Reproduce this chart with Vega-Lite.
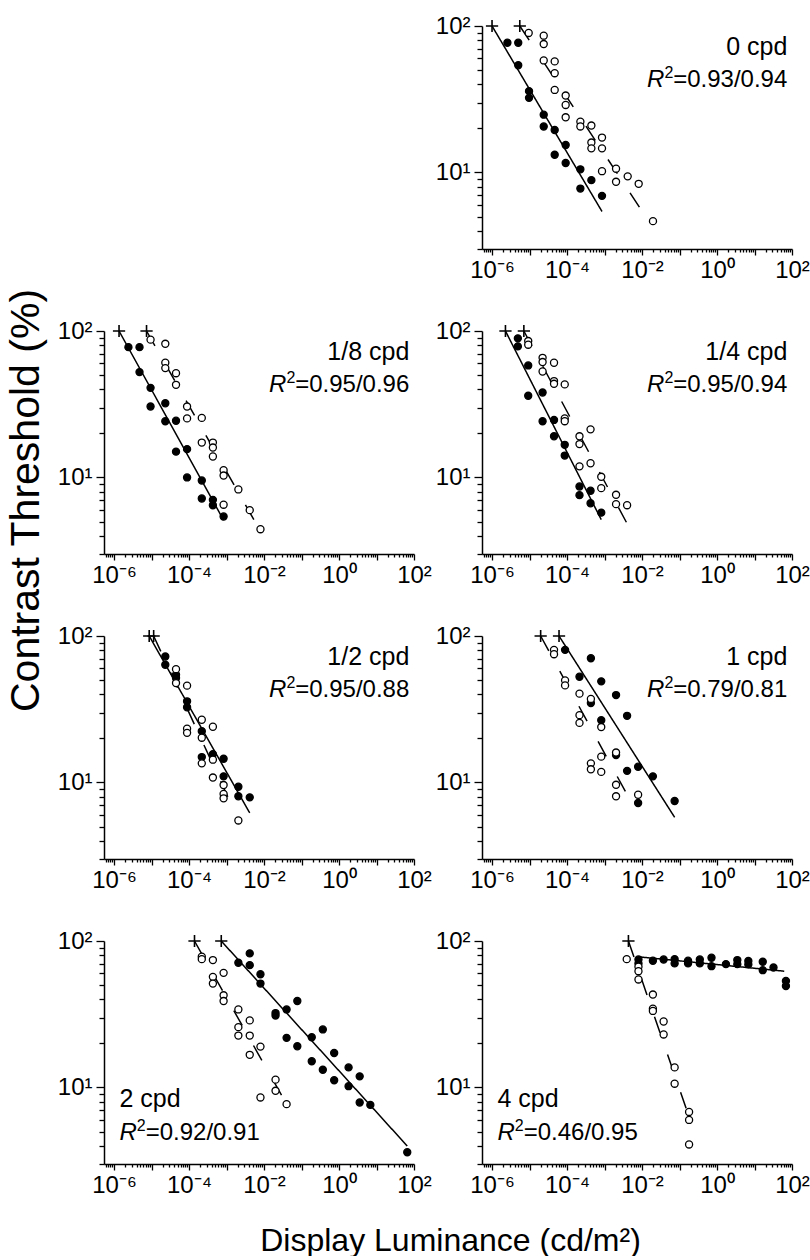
{
"$schema": "https://vega.github.io/schema/vega-lite/v6.json",
"background": "white",
"padding": {"left": 4, "top": 14, "right": 0, "bottom": 0},
"columns": 2,
"spacing": {"row": 82, "column": 68},
"bounds": "flush",
"datasets": {
"labels": [
{"p":"0","name":"0 cpd","r":"=0.93/0.94"},
{"p":"1/8","name":"1/8 cpd","r":"=0.95/0.96"},
{"p":"1/4","name":"1/4 cpd","r":"=0.95/0.94"},
{"p":"1/2","name":"1/2 cpd","r":"=0.95/0.88"},
{"p":"1","name":"1 cpd","r":"=0.79/0.81"},
{"p":"2","name":"2 cpd","r":"=0.92/0.91"},
{"p":"4","name":"4 cpd","r":"=0.46/0.95"}
],
"fits": [
{"p":"0","s":"f","x":1e-6,"y":100},{"p":"0","s":"f","x":8.57e-4,"y":5.41},
{"p":"0","s":"o","x":5.5e-6,"y":100},{"p":"0","s":"o","x":1.02e-2,"y":5.41},
{"p":"1/8","s":"f","x":1.36e-6,"y":100},{"p":"1/8","s":"f","x":8.36e-4,"y":5.11},
{"p":"1/8","s":"o","x":7.36e-6,"y":100},{"p":"1/8","s":"o","x":8.0e-3,"y":4.3},
{"p":"1/4","s":"f","x":2.28e-6,"y":100},{"p":"1/4","s":"f","x":8.18e-4,"y":5.15},
{"p":"1/4","s":"o","x":7.06e-6,"y":100},{"p":"1/4","s":"o","x":4.0e-3,"y":4.84},
{"p":"1/2","s":"f","x":8.67e-6,"y":100},{"p":"1/2","s":"f","x":4.16e-3,"y":6.19},
{"p":"1/2","s":"o","x":1.14e-5,"y":100},{"p":"1/2","s":"o","x":1.21e-3,"y":7.5},
{"p":"1","s":"f","x":6.12e-5,"y":100},{"p":"1","s":"f","x":7.41e-2,"y":5.78},
{"p":"1","s":"o","x":1.98e-5,"y":100},{"p":"1","s":"o","x":4.16e-3,"y":8.11},
{"p":"2","s":"f","x":7.24e-4,"y":100},{"p":"2","s":"f","x":66.1,"y":3.98},
{"p":"2","s":"o","x":1.4e-4,"y":100},{"p":"2","s":"o","x":4.0e-2,"y":7.69},
{"p":"4","s":"f","x":8.04e-3,"y":78.0},{"p":"4","s":"f","x":62.1,"y":62.2},
{"p":"4","s":"o","x":4.34e-3,"y":100},{"p":"4","s":"o","x":0.17,"y":6.56}
],
"pts": [
{"p":"0","s":"f","x":2.57e-6,"y":76.9},{"p":"0","s":"f","x":5.0e-6,"y":76.9},{"p":"0","s":"f","x":5.0e-6,"y":53.9},{"p":"0","s":"f","x":9.7e-6,"y":35.9},{"p":"0","s":"f","x":9.7e-6,"y":32.3},{"p":"0","s":"f","x":2.39e-5,"y":24.8},{"p":"0","s":"f","x":2.39e-5,"y":20.6},{"p":"0","s":"f","x":4.69e-5,"y":19.5},{"p":"0","s":"f","x":9.2e-5,"y":15.4},{"p":"0","s":"f","x":4.69e-5,"y":13.2},{"p":"0","s":"f","x":9.2e-5,"y":11.6},{"p":"0","s":"f","x":2.27e-4,"y":10.5},{"p":"0","s":"f","x":4.46e-4,"y":8.86},{"p":"0","s":"f","x":2.27e-4,"y":7.76},{"p":"0","s":"f","x":8.57e-4,"y":6.92},
{"p":"0","s":"o","x":9.5e-6,"y":89.6},{"p":"0","s":"o","x":2.39e-5,"y":85.9},{"p":"0","s":"o","x":2.39e-5,"y":75.3},{"p":"0","s":"o","x":2.39e-5,"y":58.2},{"p":"0","s":"o","x":4.69e-5,"y":57.3},{"p":"0","s":"o","x":4.69e-5,"y":47.6},{"p":"0","s":"o","x":4.69e-5,"y":36.6},{"p":"0","s":"o","x":9.2e-5,"y":33.5},{"p":"0","s":"o","x":9.2e-5,"y":28.9},{"p":"0","s":"o","x":9.2e-5,"y":23.8},{"p":"0","s":"o","x":2.27e-4,"y":22.2},{"p":"0","s":"o","x":2.27e-4,"y":20.6},{"p":"0","s":"o","x":4.46e-4,"y":20.9},{"p":"0","s":"o","x":4.46e-4,"y":16.0},{"p":"0","s":"o","x":4.46e-4,"y":14.6},{"p":"0","s":"o","x":8.57e-4,"y":17.3},{"p":"0","s":"o","x":8.57e-4,"y":14.6},{"p":"0","s":"o","x":8.57e-4,"y":10.2},{"p":"0","s":"o","x":2.03e-3,"y":10.6},{"p":"0","s":"o","x":2.03e-3,"y":8.63},{"p":"0","s":"o","x":4.15e-3,"y":9.4},{"p":"0","s":"o","x":8.15e-3,"y":8.36},{"p":"0","s":"o","x":1.96e-2,"y":4.65},
{"p":"1/8","s":"f","x":2.42e-6,"y":77.6},{"p":"1/8","s":"f","x":4.78e-6,"y":77.6},{"p":"1/8","s":"f","x":4.78e-6,"y":52.4},{"p":"1/8","s":"f","x":9.42e-6,"y":40.9},{"p":"1/8","s":"f","x":9.42e-6,"y":30.5},{"p":"1/8","s":"f","x":2.33e-5,"y":32.1},{"p":"1/8","s":"f","x":2.33e-5,"y":24.2},{"p":"1/8","s":"f","x":4.5e-5,"y":24.4},{"p":"1/8","s":"f","x":4.5e-5,"y":15.0},{"p":"1/8","s":"f","x":8.87e-5,"y":15.6},{"p":"1/8","s":"f","x":8.87e-5,"y":10.0},{"p":"1/8","s":"f","x":2.19e-4,"y":9.53},{"p":"1/8","s":"f","x":2.19e-4,"y":7.18},{"p":"1/8","s":"f","x":4.33e-4,"y":7.03},{"p":"1/8","s":"f","x":4.33e-4,"y":6.46},{"p":"1/8","s":"f","x":8.36e-4,"y":5.41},
{"p":"1/8","s":"o","x":9.42e-6,"y":87.3},{"p":"1/8","s":"o","x":2.33e-5,"y":81.8},{"p":"1/8","s":"o","x":2.33e-5,"y":60.7},{"p":"1/8","s":"o","x":2.33e-5,"y":55.8},{"p":"1/8","s":"o","x":4.5e-5,"y":51.5},{"p":"1/8","s":"o","x":4.5e-5,"y":42.9},{"p":"1/8","s":"o","x":8.87e-5,"y":30.5},{"p":"1/8","s":"o","x":8.87e-5,"y":25.3},{"p":"1/8","s":"o","x":2.19e-4,"y":25.5},{"p":"1/8","s":"o","x":2.19e-4,"y":17.3},{"p":"1/8","s":"o","x":4.33e-4,"y":17.3},{"p":"1/8","s":"o","x":4.33e-4,"y":16.0},{"p":"1/8","s":"o","x":4.33e-4,"y":13.9},{"p":"1/8","s":"o","x":8.36e-4,"y":11.2},{"p":"1/8","s":"o","x":8.36e-4,"y":10.3},{"p":"1/8","s":"o","x":2.07e-3,"y":8.28},{"p":"1/8","s":"o","x":8.36e-4,"y":6.51},{"p":"1/8","s":"o","x":4.16e-3,"y":5.98},{"p":"1/8","s":"o","x":8.04e-3,"y":4.43},
{"p":"1/4","s":"f","x":4.88e-6,"y":89.1},{"p":"1/4","s":"f","x":4.88e-6,"y":78.5},{"p":"1/4","s":"f","x":9.23e-6,"y":58.2},{"p":"1/4","s":"f","x":9.23e-6,"y":36.1},{"p":"1/4","s":"f","x":2.23e-5,"y":38.0},{"p":"1/4","s":"f","x":2.23e-5,"y":24.2},{"p":"1/4","s":"f","x":4.5e-5,"y":24.7},{"p":"1/4","s":"f","x":4.5e-5,"y":19.1},{"p":"1/4","s":"f","x":8.69e-5,"y":16.7},{"p":"1/4","s":"f","x":8.69e-5,"y":14.1},{"p":"1/4","s":"f","x":2.15e-4,"y":8.67},{"p":"1/4","s":"f","x":2.15e-4,"y":7.57},{"p":"1/4","s":"f","x":4.24e-4,"y":8.11},{"p":"1/4","s":"f","x":4.24e-4,"y":6.66},{"p":"1/4","s":"f","x":8.18e-4,"y":5.75},
{"p":"1/4","s":"o","x":9.23e-6,"y":85.4},{"p":"1/4","s":"o","x":9.23e-6,"y":80.6},{"p":"1/4","s":"o","x":2.23e-5,"y":65.6},{"p":"1/4","s":"o","x":2.23e-5,"y":61.4},{"p":"1/4","s":"o","x":2.23e-5,"y":52.9},{"p":"1/4","s":"o","x":4.5e-5,"y":60.7},{"p":"1/4","s":"o","x":4.5e-5,"y":45.5},{"p":"1/4","s":"o","x":4.5e-5,"y":43.6},{"p":"1/4","s":"o","x":8.69e-5,"y":43.2},{"p":"1/4","s":"o","x":8.69e-5,"y":25.3},{"p":"1/4","s":"o","x":8.69e-5,"y":24.2},{"p":"1/4","s":"o","x":2.15e-4,"y":19.1},{"p":"1/4","s":"o","x":2.15e-4,"y":16.9},{"p":"1/4","s":"o","x":4.24e-4,"y":21.3},{"p":"1/4","s":"o","x":2.15e-4,"y":11.9},{"p":"1/4","s":"o","x":4.24e-4,"y":12.5},{"p":"1/4","s":"o","x":8.18e-4,"y":10.1},{"p":"1/4","s":"o","x":8.18e-4,"y":8.45},{"p":"1/4","s":"o","x":2.03e-3,"y":7.61},{"p":"1/4","s":"o","x":2.03e-3,"y":6.57},{"p":"1/4","s":"o","x":4.0e-3,"y":6.46},
{"p":"1/2","s":"f","x":2.33e-5,"y":72.4},{"p":"1/2","s":"f","x":2.33e-5,"y":63.6},{"p":"1/2","s":"f","x":4.5e-5,"y":54.3},{"p":"1/2","s":"f","x":4.5e-5,"y":51.6},{"p":"1/2","s":"f","x":8.87e-5,"y":35.8},{"p":"1/2","s":"f","x":8.87e-5,"y":32.6},{"p":"1/2","s":"f","x":2.19e-4,"y":22.4},{"p":"1/2","s":"f","x":2.19e-4,"y":14.9},{"p":"1/2","s":"f","x":4.33e-4,"y":15.6},{"p":"1/2","s":"f","x":8.36e-4,"y":14.5},{"p":"1/2","s":"f","x":8.36e-4,"y":11.0},{"p":"1/2","s":"f","x":2.07e-3,"y":9.35},{"p":"1/2","s":"f","x":2.07e-3,"y":8.04},{"p":"1/2","s":"f","x":4.16e-3,"y":7.91},
{"p":"1/2","s":"o","x":4.5e-5,"y":59.4},{"p":"1/2","s":"o","x":4.5e-5,"y":47.7},{"p":"1/2","s":"o","x":8.87e-5,"y":45.8},{"p":"1/2","s":"o","x":2.19e-4,"y":26.8},{"p":"1/2","s":"o","x":8.87e-5,"y":23.3},{"p":"1/2","s":"o","x":8.87e-5,"y":21.8},{"p":"1/2","s":"o","x":2.19e-4,"y":20.2},{"p":"1/2","s":"o","x":2.19e-4,"y":13.5},{"p":"1/2","s":"o","x":4.33e-4,"y":24.0},{"p":"1/2","s":"o","x":4.33e-4,"y":14.3},{"p":"1/2","s":"o","x":4.33e-4,"y":10.8},{"p":"1/2","s":"o","x":8.36e-4,"y":9.6},{"p":"1/2","s":"o","x":8.36e-4,"y":8.34},{"p":"1/2","s":"o","x":8.36e-4,"y":7.79},{"p":"1/2","s":"o","x":2.07e-3,"y":5.5},
{"p":"1","s":"f","x":8.87e-5,"y":80.4},{"p":"1","s":"f","x":4.33e-4,"y":70.5},{"p":"1","s":"f","x":2.15e-4,"y":52.7},{"p":"1","s":"f","x":8.18e-4,"y":49.0},{"p":"1","s":"f","x":2.03e-3,"y":39.5},{"p":"1","s":"f","x":4.33e-4,"y":34.9},{"p":"1","s":"f","x":8.18e-4,"y":26.6},{"p":"1","s":"f","x":4.0e-3,"y":28.5},{"p":"1","s":"f","x":2.03e-3,"y":15.4},{"p":"1","s":"f","x":4.0e-3,"y":12.0},{"p":"1","s":"f","x":7.87e-3,"y":12.8},{"p":"1","s":"f","x":1.95e-2,"y":11.0},{"p":"1","s":"f","x":7.87e-3,"y":7.24},{"p":"1","s":"f","x":7.41e-2,"y":7.47},
{"p":"1","s":"o","x":4.5e-5,"y":80.4},{"p":"1","s":"o","x":4.5e-5,"y":75.1},{"p":"1","s":"o","x":8.87e-5,"y":49.8},{"p":"1","s":"o","x":8.87e-5,"y":46.0},{"p":"1","s":"o","x":2.15e-4,"y":40.4},{"p":"1","s":"o","x":4.33e-4,"y":37.2},{"p":"1","s":"o","x":2.15e-4,"y":28.8},{"p":"1","s":"o","x":2.15e-4,"y":25.5},{"p":"1","s":"o","x":8.18e-4,"y":23.9},{"p":"1","s":"o","x":2.03e-3,"y":16.0},{"p":"1","s":"o","x":8.18e-4,"y":15.0},{"p":"1","s":"o","x":4.33e-4,"y":13.5},{"p":"1","s":"o","x":4.33e-4,"y":12.3},{"p":"1","s":"o","x":8.18e-4,"y":11.8},{"p":"1","s":"o","x":2.03e-3,"y":9.64},{"p":"1","s":"o","x":2.03e-3,"y":8.04},{"p":"1","s":"o","x":7.87e-3,"y":8.24},
{"p":"2","s":"f","x":4.16e-3,"y":82.3},{"p":"2","s":"f","x":2.07e-3,"y":71.0},{"p":"2","s":"f","x":4.16e-3,"y":68.4},{"p":"2","s":"f","x":8.04e-3,"y":59.3},{"p":"2","s":"f","x":8.04e-3,"y":51.2},{"p":"2","s":"f","x":7.73e-2,"y":38.9},{"p":"2","s":"f","x":4.0e-2,"y":34.1},{"p":"2","s":"f","x":2.03e-2,"y":32.2},{"p":"2","s":"f","x":2.03e-2,"y":31.0},{"p":"2","s":"f","x":0.37,"y":24.9},{"p":"2","s":"f","x":0.1875,"y":22.0},{"p":"2","s":"f","x":4.0e-2,"y":21.8},{"p":"2","s":"f","x":7.73e-2,"y":19.1},{"p":"2","s":"f","x":0.743,"y":17.2},{"p":"2","s":"f","x":0.1875,"y":15.1},{"p":"2","s":"f","x":1.8,"y":13.7},{"p":"2","s":"f","x":0.37,"y":13.2},{"p":"2","s":"f","x":3.56,"y":11.9},{"p":"2","s":"f","x":0.743,"y":11.2},{"p":"2","s":"f","x":1.8,"y":10.2},{"p":"2","s":"f","x":3.56,"y":7.89},{"p":"2","s":"f","x":6.85,"y":7.6},{"p":"2","s":"f","x":66.1,"y":3.61},
{"p":"2","s":"o","x":2.19e-4,"y":78.1},{"p":"2","s":"o","x":2.19e-4,"y":75.2},{"p":"2","s":"o","x":4.33e-4,"y":74.1},{"p":"2","s":"o","x":4.33e-4,"y":56.9},{"p":"2","s":"o","x":4.33e-4,"y":51.2},{"p":"2","s":"o","x":8.36e-4,"y":60.6},{"p":"2","s":"o","x":8.36e-4,"y":42.6},{"p":"2","s":"o","x":8.36e-4,"y":38.9},{"p":"2","s":"o","x":2.07e-3,"y":34.1},{"p":"2","s":"o","x":4.16e-3,"y":28.7},{"p":"2","s":"o","x":2.07e-3,"y":25.8},{"p":"2","s":"o","x":2.07e-3,"y":22.6},{"p":"2","s":"o","x":4.16e-3,"y":22.6},{"p":"2","s":"o","x":4.16e-3,"y":16.7},{"p":"2","s":"o","x":8.04e-3,"y":19.0},{"p":"2","s":"o","x":2.03e-2,"y":11.3},{"p":"2","s":"o","x":2.03e-2,"y":9.49},{"p":"2","s":"o","x":8.04e-3,"y":8.54},{"p":"2","s":"o","x":4.0e-2,"y":7.69},
{"p":"4","s":"f","x":8.04e-3,"y":74.8},{"p":"4","s":"f","x":8.04e-3,"y":70.3},{"p":"4","s":"f","x":1.95e-2,"y":73.3},{"p":"4","s":"f","x":3.77e-2,"y":74.8},{"p":"4","s":"f","x":7.41e-2,"y":75.2},{"p":"4","s":"f","x":7.41e-2,"y":70.3},{"p":"4","s":"f","x":0.169,"y":73.3},{"p":"4","s":"f","x":0.169,"y":70.3},{"p":"4","s":"f","x":0.348,"y":74.8},{"p":"4","s":"f","x":0.348,"y":70.3},{"p":"4","s":"f","x":0.713,"y":76.9},{"p":"4","s":"f","x":0.713,"y":67.3},{"p":"4","s":"f","x":1.73,"y":69.5},{"p":"4","s":"f","x":3.48,"y":74.1},{"p":"4","s":"f","x":3.48,"y":69.5},{"p":"4","s":"f","x":6.85,"y":73.0},{"p":"4","s":"f","x":6.85,"y":69.2},{"p":"4","s":"f","x":16.6,"y":72.1},{"p":"4","s":"f","x":16.6,"y":63.2},{"p":"4","s":"f","x":32.1,"y":65.9},{"p":"4","s":"f","x":68.9,"y":53.4},{"p":"4","s":"f","x":68.9,"y":49.3},
{"p":"4","s":"o","x":3.91e-3,"y":75.2},{"p":"4","s":"o","x":8.04e-3,"y":66.7},{"p":"4","s":"o","x":8.04e-3,"y":62.2},{"p":"4","s":"o","x":8.04e-3,"y":54.6},{"p":"4","s":"o","x":1.95e-2,"y":43.1},{"p":"4","s":"o","x":1.95e-2,"y":34.5},{"p":"4","s":"o","x":1.95e-2,"y":33.3},{"p":"4","s":"o","x":3.77e-2,"y":28.2},{"p":"4","s":"o","x":3.77e-2,"y":23.0},{"p":"4","s":"o","x":7.41e-2,"y":13.7},{"p":"4","s":"o","x":7.41e-2,"y":10.6},{"p":"4","s":"o","x":0.18,"y":6.8},{"p":"4","s":"o","x":0.18,"y":6.0},{"p":"4","s":"o","x":0.18,"y":4.08}
]
},
"concat": [
{"width":310,"height":223,"data":{"values":[{"a":1}]},"mark":{"type":"point","opacity":0}},
{"width":310,"height":223,
 "layer":[
  {"encoding":{
    "x":{"field":"x","type":"quantitative","scale":{"type":"log","domain":[5.4e-7,100],"nice":false},"axis":{"values":[6e-7,7e-7,8e-7,9e-7,1e-6,2e-6,3e-6,4e-6,5e-6,6e-6,7e-6,8e-6,9e-6,1e-5,2e-5,3e-5,4e-5,5e-5,6e-5,7e-5,8e-5,9e-5,1e-4,2e-4,3e-4,4e-4,5e-4,6e-4,7e-4,8e-4,9e-4,0.001,0.002,0.003,0.004,0.005,0.006,0.007,0.008,0.009,0.01,0.02,0.03,0.04,0.05,0.06,0.07,0.08,0.09,0.1,0.2,0.3,0.4,0.5,0.6,0.7,0.8,0.9,1,2,3,4,5,6,7,8,9,10,20,30,40,50,60,70,80,90,100],"labelExpr":"datum.value == 0.000001 ? '10⁻⁶' : datum.value == 0.0001 ? '10⁻⁴' : datum.value == 0.01 ? '10⁻²' : datum.value == 1 ? '10⁰' : datum.value == 100 ? '10²' : ''","tickSize":{"condition":{"test":"abs(log(datum.value)/LN10 - round(log(datum.value)/LN10)) < 0.001","value":6},"value":3},"labelPadding":3,"labelOverlap":false,"labelFlush":false,"title":null}},
    "y":{"field":"y","type":"quantitative","scale":{"type":"log","domain":[3,100],"nice":false},"axis":{"values":[3,4,5,6,7,8,9,10,20,30,40,50,60,70,80,90,100],"labelExpr":"datum.value == 100 ? '10²' : datum.value == 10 ? '10¹' : ''","tickSize":{"condition":{"test":"datum.value == 10 || datum.value == 100","value":8},"value":5},"labelPadding":4,"labelOverlap":false,"title":null}}},
   "layer":[
    {"data":{"name":"fits"},"transform":[{"filter":"datum.p=='0'"}],"mark":{"type":"line","stroke":"black","strokeWidth":1.5},"encoding":{"strokeDash":{"field":"s","type":"nominal","scale":{"domain":["f","o"],"range":[[1,0],[17,23]]},"legend":null}}},
    {"data":{"name":"pts"},"transform":[{"filter":"datum.p=='0'"}],"mark":{"type":"point","shape":"circle","filled":true,"stroke":"black","strokeWidth":1.3,"size":50,"opacity":1},"encoding":{"fill":{"field":"s","type":"nominal","scale":{"domain":["f","o"],"range":["black","white"]},"legend":null}}},
    {"data":{"name":"fits"},"transform":[{"filter":"datum.p=='0' && datum.y==100"}],"mark":{"type":"point","shape":"M-1,0L1,0M0,-1L0,1","filled":false,"stroke":"black","strokeWidth":1.6,"size":150,"opacity":1}}
   ]},
  {"data":{"name":"labels"},"transform":[{"filter":"datum.p=='0'"}],"mark":{"type":"text","align":"right","baseline":"alphabetic","fontSize":25,"color":"black"},"encoding":{"x":{"datum":75,"type":"quantitative","scale":{"type":"log","domain":[5.4e-7,100],"nice":false}},"y":{"datum":63.1,"type":"quantitative","scale":{"type":"log","domain":[3,100],"nice":false}},"text":{"field":"name"}}},
  {"data":{"name":"labels"},"transform":[{"filter":"datum.p=='0'"}],"mark":{"type":"text","align":"right","baseline":"alphabetic","fontSize":24,"color":"black"},"encoding":{"x":{"datum":75,"type":"quantitative","scale":{"type":"log","domain":[5.4e-7,100],"nice":false}},"y":{"datum":38.6,"type":"quantitative","scale":{"type":"log","domain":[3,100],"nice":false}},"text":{"field":"r"}}},
  {"data":{"name":"labels"},"transform":[{"filter":"datum.p=='0'"}],"mark":{"type":"text","align":"right","baseline":"alphabetic","fontSize":16,"dx":-114,"dy":-9,"text":"2","color":"black"},"encoding":{"x":{"datum":75,"type":"quantitative","scale":{"type":"log","domain":[5.4e-7,100],"nice":false}},"y":{"datum":38.6,"type":"quantitative","scale":{"type":"log","domain":[3,100],"nice":false}}}},
  {"data":{"name":"labels"},"transform":[{"filter":"datum.p=='0'"}],"mark":{"type":"text","align":"right","baseline":"alphabetic","fontSize":24,"fontStyle":"italic","dx":-123,"text":"R","color":"black"},"encoding":{"x":{"datum":75,"type":"quantitative","scale":{"type":"log","domain":[5.4e-7,100],"nice":false}},"y":{"datum":38.6,"type":"quantitative","scale":{"type":"log","domain":[3,100],"nice":false}}}}
 ]},
{"width":310,"height":223,
 "layer":[
  {"encoding":{
    "x":{"field":"x","type":"quantitative","scale":{"type":"log","domain":[5.4e-7,100],"nice":false},"axis":{"values":[6e-7,7e-7,8e-7,9e-7,1e-6,2e-6,3e-6,4e-6,5e-6,6e-6,7e-6,8e-6,9e-6,1e-5,2e-5,3e-5,4e-5,5e-5,6e-5,7e-5,8e-5,9e-5,1e-4,2e-4,3e-4,4e-4,5e-4,6e-4,7e-4,8e-4,9e-4,0.001,0.002,0.003,0.004,0.005,0.006,0.007,0.008,0.009,0.01,0.02,0.03,0.04,0.05,0.06,0.07,0.08,0.09,0.1,0.2,0.3,0.4,0.5,0.6,0.7,0.8,0.9,1,2,3,4,5,6,7,8,9,10,20,30,40,50,60,70,80,90,100],"labelExpr":"datum.value == 0.000001 ? '10⁻⁶' : datum.value == 0.0001 ? '10⁻⁴' : datum.value == 0.01 ? '10⁻²' : datum.value == 1 ? '10⁰' : datum.value == 100 ? '10²' : ''","tickSize":{"condition":{"test":"abs(log(datum.value)/LN10 - round(log(datum.value)/LN10)) < 0.001","value":6},"value":3},"labelPadding":3,"labelOverlap":false,"labelFlush":false,"title":null}},
    "y":{"field":"y","type":"quantitative","scale":{"type":"log","domain":[3,100],"nice":false},"axis":{"values":[3,4,5,6,7,8,9,10,20,30,40,50,60,70,80,90,100],"labelExpr":"datum.value == 100 ? '10²' : datum.value == 10 ? '10¹' : ''","tickSize":{"condition":{"test":"datum.value == 10 || datum.value == 100","value":8},"value":5},"labelPadding":4,"labelOverlap":false,"title":"Contrast Threshold (%)","titleX":-66,"titleY":169,"titleFontSize":41,"titleBaseline":"alphabetic","titleAlign":"center","titleAngle":270}}},
   "layer":[
    {"data":{"name":"fits"},"transform":[{"filter":"datum.p=='1/8'"}],"mark":{"type":"line","stroke":"black","strokeWidth":1.5},"encoding":{"strokeDash":{"field":"s","type":"nominal","scale":{"domain":["f","o"],"range":[[1,0],[17,23]]},"legend":null}}},
    {"data":{"name":"pts"},"transform":[{"filter":"datum.p=='1/8'"}],"mark":{"type":"point","shape":"circle","filled":true,"stroke":"black","strokeWidth":1.3,"size":50,"opacity":1},"encoding":{"fill":{"field":"s","type":"nominal","scale":{"domain":["f","o"],"range":["black","white"]},"legend":null}}},
    {"data":{"name":"fits"},"transform":[{"filter":"datum.p=='1/8' && datum.y==100"}],"mark":{"type":"point","shape":"M-1,0L1,0M0,-1L0,1","filled":false,"stroke":"black","strokeWidth":1.6,"size":150,"opacity":1}}
   ]},
  {"data":{"name":"labels"},"transform":[{"filter":"datum.p=='1/8'"}],"mark":{"type":"text","align":"right","baseline":"alphabetic","fontSize":25,"color":"black"},"encoding":{"x":{"datum":75,"type":"quantitative","scale":{"type":"log","domain":[5.4e-7,100],"nice":false}},"y":{"datum":63.1,"type":"quantitative","scale":{"type":"log","domain":[3,100],"nice":false}},"text":{"field":"name"}}},
  {"data":{"name":"labels"},"transform":[{"filter":"datum.p=='1/8'"}],"mark":{"type":"text","align":"right","baseline":"alphabetic","fontSize":24,"color":"black"},"encoding":{"x":{"datum":75,"type":"quantitative","scale":{"type":"log","domain":[5.4e-7,100],"nice":false}},"y":{"datum":38.6,"type":"quantitative","scale":{"type":"log","domain":[3,100],"nice":false}},"text":{"field":"r"}}},
  {"data":{"name":"labels"},"transform":[{"filter":"datum.p=='1/8'"}],"mark":{"type":"text","align":"right","baseline":"alphabetic","fontSize":16,"dx":-114,"dy":-9,"text":"2","color":"black"},"encoding":{"x":{"datum":75,"type":"quantitative","scale":{"type":"log","domain":[5.4e-7,100],"nice":false}},"y":{"datum":38.6,"type":"quantitative","scale":{"type":"log","domain":[3,100],"nice":false}}}},
  {"data":{"name":"labels"},"transform":[{"filter":"datum.p=='1/8'"}],"mark":{"type":"text","align":"right","baseline":"alphabetic","fontSize":24,"fontStyle":"italic","dx":-123,"text":"R","color":"black"},"encoding":{"x":{"datum":75,"type":"quantitative","scale":{"type":"log","domain":[5.4e-7,100],"nice":false}},"y":{"datum":38.6,"type":"quantitative","scale":{"type":"log","domain":[3,100],"nice":false}}}}
 ]},
{"width":310,"height":223,
 "layer":[
  {"encoding":{
    "x":{"field":"x","type":"quantitative","scale":{"type":"log","domain":[5.4e-7,100],"nice":false},"axis":{"values":[6e-7,7e-7,8e-7,9e-7,1e-6,2e-6,3e-6,4e-6,5e-6,6e-6,7e-6,8e-6,9e-6,1e-5,2e-5,3e-5,4e-5,5e-5,6e-5,7e-5,8e-5,9e-5,1e-4,2e-4,3e-4,4e-4,5e-4,6e-4,7e-4,8e-4,9e-4,0.001,0.002,0.003,0.004,0.005,0.006,0.007,0.008,0.009,0.01,0.02,0.03,0.04,0.05,0.06,0.07,0.08,0.09,0.1,0.2,0.3,0.4,0.5,0.6,0.7,0.8,0.9,1,2,3,4,5,6,7,8,9,10,20,30,40,50,60,70,80,90,100],"labelExpr":"datum.value == 0.000001 ? '10⁻⁶' : datum.value == 0.0001 ? '10⁻⁴' : datum.value == 0.01 ? '10⁻²' : datum.value == 1 ? '10⁰' : datum.value == 100 ? '10²' : ''","tickSize":{"condition":{"test":"abs(log(datum.value)/LN10 - round(log(datum.value)/LN10)) < 0.001","value":6},"value":3},"labelPadding":3,"labelOverlap":false,"labelFlush":false,"title":null}},
    "y":{"field":"y","type":"quantitative","scale":{"type":"log","domain":[3,100],"nice":false},"axis":{"values":[3,4,5,6,7,8,9,10,20,30,40,50,60,70,80,90,100],"labelExpr":"datum.value == 100 ? '10²' : datum.value == 10 ? '10¹' : ''","tickSize":{"condition":{"test":"datum.value == 10 || datum.value == 100","value":8},"value":5},"labelPadding":4,"labelOverlap":false,"title":null}}},
   "layer":[
    {"data":{"name":"fits"},"transform":[{"filter":"datum.p=='1/4'"}],"mark":{"type":"line","stroke":"black","strokeWidth":1.5},"encoding":{"strokeDash":{"field":"s","type":"nominal","scale":{"domain":["f","o"],"range":[[1,0],[17,23]]},"legend":null}}},
    {"data":{"name":"pts"},"transform":[{"filter":"datum.p=='1/4'"}],"mark":{"type":"point","shape":"circle","filled":true,"stroke":"black","strokeWidth":1.3,"size":50,"opacity":1},"encoding":{"fill":{"field":"s","type":"nominal","scale":{"domain":["f","o"],"range":["black","white"]},"legend":null}}},
    {"data":{"name":"fits"},"transform":[{"filter":"datum.p=='1/4' && datum.y==100"}],"mark":{"type":"point","shape":"M-1,0L1,0M0,-1L0,1","filled":false,"stroke":"black","strokeWidth":1.6,"size":150,"opacity":1}}
   ]},
  {"data":{"name":"labels"},"transform":[{"filter":"datum.p=='1/4'"}],"mark":{"type":"text","align":"right","baseline":"alphabetic","fontSize":25,"color":"black"},"encoding":{"x":{"datum":75,"type":"quantitative","scale":{"type":"log","domain":[5.4e-7,100],"nice":false}},"y":{"datum":63.1,"type":"quantitative","scale":{"type":"log","domain":[3,100],"nice":false}},"text":{"field":"name"}}},
  {"data":{"name":"labels"},"transform":[{"filter":"datum.p=='1/4'"}],"mark":{"type":"text","align":"right","baseline":"alphabetic","fontSize":24,"color":"black"},"encoding":{"x":{"datum":75,"type":"quantitative","scale":{"type":"log","domain":[5.4e-7,100],"nice":false}},"y":{"datum":38.6,"type":"quantitative","scale":{"type":"log","domain":[3,100],"nice":false}},"text":{"field":"r"}}},
  {"data":{"name":"labels"},"transform":[{"filter":"datum.p=='1/4'"}],"mark":{"type":"text","align":"right","baseline":"alphabetic","fontSize":16,"dx":-114,"dy":-9,"text":"2","color":"black"},"encoding":{"x":{"datum":75,"type":"quantitative","scale":{"type":"log","domain":[5.4e-7,100],"nice":false}},"y":{"datum":38.6,"type":"quantitative","scale":{"type":"log","domain":[3,100],"nice":false}}}},
  {"data":{"name":"labels"},"transform":[{"filter":"datum.p=='1/4'"}],"mark":{"type":"text","align":"right","baseline":"alphabetic","fontSize":24,"fontStyle":"italic","dx":-123,"text":"R","color":"black"},"encoding":{"x":{"datum":75,"type":"quantitative","scale":{"type":"log","domain":[5.4e-7,100],"nice":false}},"y":{"datum":38.6,"type":"quantitative","scale":{"type":"log","domain":[3,100],"nice":false}}}}
 ]},
{"width":310,"height":223,
 "layer":[
  {"encoding":{
    "x":{"field":"x","type":"quantitative","scale":{"type":"log","domain":[5.4e-7,100],"nice":false},"axis":{"values":[6e-7,7e-7,8e-7,9e-7,1e-6,2e-6,3e-6,4e-6,5e-6,6e-6,7e-6,8e-6,9e-6,1e-5,2e-5,3e-5,4e-5,5e-5,6e-5,7e-5,8e-5,9e-5,1e-4,2e-4,3e-4,4e-4,5e-4,6e-4,7e-4,8e-4,9e-4,0.001,0.002,0.003,0.004,0.005,0.006,0.007,0.008,0.009,0.01,0.02,0.03,0.04,0.05,0.06,0.07,0.08,0.09,0.1,0.2,0.3,0.4,0.5,0.6,0.7,0.8,0.9,1,2,3,4,5,6,7,8,9,10,20,30,40,50,60,70,80,90,100],"labelExpr":"datum.value == 0.000001 ? '10⁻⁶' : datum.value == 0.0001 ? '10⁻⁴' : datum.value == 0.01 ? '10⁻²' : datum.value == 1 ? '10⁰' : datum.value == 100 ? '10²' : ''","tickSize":{"condition":{"test":"abs(log(datum.value)/LN10 - round(log(datum.value)/LN10)) < 0.001","value":6},"value":3},"labelPadding":3,"labelOverlap":false,"labelFlush":false,"title":null}},
    "y":{"field":"y","type":"quantitative","scale":{"type":"log","domain":[3,100],"nice":false},"axis":{"values":[3,4,5,6,7,8,9,10,20,30,40,50,60,70,80,90,100],"labelExpr":"datum.value == 100 ? '10²' : datum.value == 10 ? '10¹' : ''","tickSize":{"condition":{"test":"datum.value == 10 || datum.value == 100","value":8},"value":5},"labelPadding":4,"labelOverlap":false,"title":null}}},
   "layer":[
    {"data":{"name":"fits"},"transform":[{"filter":"datum.p=='1/2'"}],"mark":{"type":"line","stroke":"black","strokeWidth":1.5},"encoding":{"strokeDash":{"field":"s","type":"nominal","scale":{"domain":["f","o"],"range":[[1,0],[17,23]]},"legend":null}}},
    {"data":{"name":"pts"},"transform":[{"filter":"datum.p=='1/2'"}],"mark":{"type":"point","shape":"circle","filled":true,"stroke":"black","strokeWidth":1.3,"size":50,"opacity":1},"encoding":{"fill":{"field":"s","type":"nominal","scale":{"domain":["f","o"],"range":["black","white"]},"legend":null}}},
    {"data":{"name":"fits"},"transform":[{"filter":"datum.p=='1/2' && datum.y==100"}],"mark":{"type":"point","shape":"M-1,0L1,0M0,-1L0,1","filled":false,"stroke":"black","strokeWidth":1.6,"size":150,"opacity":1}}
   ]},
  {"data":{"name":"labels"},"transform":[{"filter":"datum.p=='1/2'"}],"mark":{"type":"text","align":"right","baseline":"alphabetic","fontSize":25,"color":"black"},"encoding":{"x":{"datum":75,"type":"quantitative","scale":{"type":"log","domain":[5.4e-7,100],"nice":false}},"y":{"datum":63.1,"type":"quantitative","scale":{"type":"log","domain":[3,100],"nice":false}},"text":{"field":"name"}}},
  {"data":{"name":"labels"},"transform":[{"filter":"datum.p=='1/2'"}],"mark":{"type":"text","align":"right","baseline":"alphabetic","fontSize":24,"color":"black"},"encoding":{"x":{"datum":75,"type":"quantitative","scale":{"type":"log","domain":[5.4e-7,100],"nice":false}},"y":{"datum":38.6,"type":"quantitative","scale":{"type":"log","domain":[3,100],"nice":false}},"text":{"field":"r"}}},
  {"data":{"name":"labels"},"transform":[{"filter":"datum.p=='1/2'"}],"mark":{"type":"text","align":"right","baseline":"alphabetic","fontSize":16,"dx":-114,"dy":-9,"text":"2","color":"black"},"encoding":{"x":{"datum":75,"type":"quantitative","scale":{"type":"log","domain":[5.4e-7,100],"nice":false}},"y":{"datum":38.6,"type":"quantitative","scale":{"type":"log","domain":[3,100],"nice":false}}}},
  {"data":{"name":"labels"},"transform":[{"filter":"datum.p=='1/2'"}],"mark":{"type":"text","align":"right","baseline":"alphabetic","fontSize":24,"fontStyle":"italic","dx":-123,"text":"R","color":"black"},"encoding":{"x":{"datum":75,"type":"quantitative","scale":{"type":"log","domain":[5.4e-7,100],"nice":false}},"y":{"datum":38.6,"type":"quantitative","scale":{"type":"log","domain":[3,100],"nice":false}}}}
 ]},
{"width":310,"height":223,
 "layer":[
  {"encoding":{
    "x":{"field":"x","type":"quantitative","scale":{"type":"log","domain":[5.4e-7,100],"nice":false},"axis":{"values":[6e-7,7e-7,8e-7,9e-7,1e-6,2e-6,3e-6,4e-6,5e-6,6e-6,7e-6,8e-6,9e-6,1e-5,2e-5,3e-5,4e-5,5e-5,6e-5,7e-5,8e-5,9e-5,1e-4,2e-4,3e-4,4e-4,5e-4,6e-4,7e-4,8e-4,9e-4,0.001,0.002,0.003,0.004,0.005,0.006,0.007,0.008,0.009,0.01,0.02,0.03,0.04,0.05,0.06,0.07,0.08,0.09,0.1,0.2,0.3,0.4,0.5,0.6,0.7,0.8,0.9,1,2,3,4,5,6,7,8,9,10,20,30,40,50,60,70,80,90,100],"labelExpr":"datum.value == 0.000001 ? '10⁻⁶' : datum.value == 0.0001 ? '10⁻⁴' : datum.value == 0.01 ? '10⁻²' : datum.value == 1 ? '10⁰' : datum.value == 100 ? '10²' : ''","tickSize":{"condition":{"test":"abs(log(datum.value)/LN10 - round(log(datum.value)/LN10)) < 0.001","value":6},"value":3},"labelPadding":3,"labelOverlap":false,"labelFlush":false,"title":null}},
    "y":{"field":"y","type":"quantitative","scale":{"type":"log","domain":[3,100],"nice":false},"axis":{"values":[3,4,5,6,7,8,9,10,20,30,40,50,60,70,80,90,100],"labelExpr":"datum.value == 100 ? '10²' : datum.value == 10 ? '10¹' : ''","tickSize":{"condition":{"test":"datum.value == 10 || datum.value == 100","value":8},"value":5},"labelPadding":4,"labelOverlap":false,"title":null}}},
   "layer":[
    {"data":{"name":"fits"},"transform":[{"filter":"datum.p=='1'"}],"mark":{"type":"line","stroke":"black","strokeWidth":1.5},"encoding":{"strokeDash":{"field":"s","type":"nominal","scale":{"domain":["f","o"],"range":[[1,0],[17,23]]},"legend":null}}},
    {"data":{"name":"pts"},"transform":[{"filter":"datum.p=='1'"}],"mark":{"type":"point","shape":"circle","filled":true,"stroke":"black","strokeWidth":1.3,"size":50,"opacity":1},"encoding":{"fill":{"field":"s","type":"nominal","scale":{"domain":["f","o"],"range":["black","white"]},"legend":null}}},
    {"data":{"name":"fits"},"transform":[{"filter":"datum.p=='1' && datum.y==100"}],"mark":{"type":"point","shape":"M-1,0L1,0M0,-1L0,1","filled":false,"stroke":"black","strokeWidth":1.6,"size":150,"opacity":1}}
   ]},
  {"data":{"name":"labels"},"transform":[{"filter":"datum.p=='1'"}],"mark":{"type":"text","align":"right","baseline":"alphabetic","fontSize":25,"color":"black"},"encoding":{"x":{"datum":75,"type":"quantitative","scale":{"type":"log","domain":[5.4e-7,100],"nice":false}},"y":{"datum":63.1,"type":"quantitative","scale":{"type":"log","domain":[3,100],"nice":false}},"text":{"field":"name"}}},
  {"data":{"name":"labels"},"transform":[{"filter":"datum.p=='1'"}],"mark":{"type":"text","align":"right","baseline":"alphabetic","fontSize":24,"color":"black"},"encoding":{"x":{"datum":75,"type":"quantitative","scale":{"type":"log","domain":[5.4e-7,100],"nice":false}},"y":{"datum":38.6,"type":"quantitative","scale":{"type":"log","domain":[3,100],"nice":false}},"text":{"field":"r"}}},
  {"data":{"name":"labels"},"transform":[{"filter":"datum.p=='1'"}],"mark":{"type":"text","align":"right","baseline":"alphabetic","fontSize":16,"dx":-114,"dy":-9,"text":"2","color":"black"},"encoding":{"x":{"datum":75,"type":"quantitative","scale":{"type":"log","domain":[5.4e-7,100],"nice":false}},"y":{"datum":38.6,"type":"quantitative","scale":{"type":"log","domain":[3,100],"nice":false}}}},
  {"data":{"name":"labels"},"transform":[{"filter":"datum.p=='1'"}],"mark":{"type":"text","align":"right","baseline":"alphabetic","fontSize":24,"fontStyle":"italic","dx":-123,"text":"R","color":"black"},"encoding":{"x":{"datum":75,"type":"quantitative","scale":{"type":"log","domain":[5.4e-7,100],"nice":false}},"y":{"datum":38.6,"type":"quantitative","scale":{"type":"log","domain":[3,100],"nice":false}}}}
 ]},
{"width":310,"height":223,
 "layer":[
  {"encoding":{
    "x":{"field":"x","type":"quantitative","scale":{"type":"log","domain":[5.4e-7,100],"nice":false},"axis":{"values":[6e-7,7e-7,8e-7,9e-7,1e-6,2e-6,3e-6,4e-6,5e-6,6e-6,7e-6,8e-6,9e-6,1e-5,2e-5,3e-5,4e-5,5e-5,6e-5,7e-5,8e-5,9e-5,1e-4,2e-4,3e-4,4e-4,5e-4,6e-4,7e-4,8e-4,9e-4,0.001,0.002,0.003,0.004,0.005,0.006,0.007,0.008,0.009,0.01,0.02,0.03,0.04,0.05,0.06,0.07,0.08,0.09,0.1,0.2,0.3,0.4,0.5,0.6,0.7,0.8,0.9,1,2,3,4,5,6,7,8,9,10,20,30,40,50,60,70,80,90,100],"labelExpr":"datum.value == 0.000001 ? '10⁻⁶' : datum.value == 0.0001 ? '10⁻⁴' : datum.value == 0.01 ? '10⁻²' : datum.value == 1 ? '10⁰' : datum.value == 100 ? '10²' : ''","tickSize":{"condition":{"test":"abs(log(datum.value)/LN10 - round(log(datum.value)/LN10)) < 0.001","value":6},"value":3},"labelPadding":3,"labelOverlap":false,"labelFlush":false,"title":"Display Luminance (cd/m²)","titleX":346,"titleY":86,"titleFontSize":32,"titleBaseline":"alphabetic","titleAlign":"center"}},
    "y":{"field":"y","type":"quantitative","scale":{"type":"log","domain":[3,100],"nice":false},"axis":{"values":[3,4,5,6,7,8,9,10,20,30,40,50,60,70,80,90,100],"labelExpr":"datum.value == 100 ? '10²' : datum.value == 10 ? '10¹' : ''","tickSize":{"condition":{"test":"datum.value == 10 || datum.value == 100","value":8},"value":5},"labelPadding":4,"labelOverlap":false,"title":null}}},
   "layer":[
    {"data":{"name":"fits"},"transform":[{"filter":"datum.p=='2'"}],"mark":{"type":"line","stroke":"black","strokeWidth":1.5},"encoding":{"strokeDash":{"field":"s","type":"nominal","scale":{"domain":["f","o"],"range":[[1,0],[17,23]]},"legend":null}}},
    {"data":{"name":"pts"},"transform":[{"filter":"datum.p=='2'"}],"mark":{"type":"point","shape":"circle","filled":true,"stroke":"black","strokeWidth":1.3,"size":50,"opacity":1},"encoding":{"fill":{"field":"s","type":"nominal","scale":{"domain":["f","o"],"range":["black","white"]},"legend":null}}},
    {"data":{"name":"fits"},"transform":[{"filter":"datum.p=='2' && datum.y==100"}],"mark":{"type":"point","shape":"M-1,0L1,0M0,-1L0,1","filled":false,"stroke":"black","strokeWidth":1.6,"size":150,"opacity":1}}
   ]},
  {"data":{"name":"labels"},"transform":[{"filter":"datum.p=='2'"}],"mark":{"type":"text","align":"left","baseline":"alphabetic","fontSize":25,"color":"black"},"encoding":{"x":{"datum":1.4e-6,"type":"quantitative","scale":{"type":"log","domain":[5.4e-7,100],"nice":false}},"y":{"datum":7.38,"type":"quantitative","scale":{"type":"log","domain":[3,100],"nice":false}},"text":{"field":"name"}}},
  {"data":{"name":"labels"},"transform":[{"filter":"datum.p=='2'"}],"mark":{"type":"text","align":"left","baseline":"alphabetic","fontSize":24,"fontStyle":"italic","text":"R","color":"black"},"encoding":{"x":{"datum":1.4e-6,"type":"quantitative","scale":{"type":"log","domain":[5.4e-7,100],"nice":false}},"y":{"datum":4.37,"type":"quantitative","scale":{"type":"log","domain":[3,100],"nice":false}}}},
  {"data":{"name":"labels"},"transform":[{"filter":"datum.p=='2'"}],"mark":{"type":"text","align":"left","baseline":"alphabetic","fontSize":16,"dx":17.3,"dy":-9,"text":"2","color":"black"},"encoding":{"x":{"datum":1.4e-6,"type":"quantitative","scale":{"type":"log","domain":[5.4e-7,100],"nice":false}},"y":{"datum":4.37,"type":"quantitative","scale":{"type":"log","domain":[3,100],"nice":false}}}},
  {"data":{"name":"labels"},"transform":[{"filter":"datum.p=='2'"}],"mark":{"type":"text","align":"left","baseline":"alphabetic","fontSize":24,"dx":26.2,"color":"black"},"encoding":{"x":{"datum":1.4e-6,"type":"quantitative","scale":{"type":"log","domain":[5.4e-7,100],"nice":false}},"y":{"datum":4.37,"type":"quantitative","scale":{"type":"log","domain":[3,100],"nice":false}},"text":{"field":"r"}}}
 ]},
{"width":310,"height":223,
 "layer":[
  {"encoding":{
    "x":{"field":"x","type":"quantitative","scale":{"type":"log","domain":[5.4e-7,100],"nice":false},"axis":{"values":[6e-7,7e-7,8e-7,9e-7,1e-6,2e-6,3e-6,4e-6,5e-6,6e-6,7e-6,8e-6,9e-6,1e-5,2e-5,3e-5,4e-5,5e-5,6e-5,7e-5,8e-5,9e-5,1e-4,2e-4,3e-4,4e-4,5e-4,6e-4,7e-4,8e-4,9e-4,0.001,0.002,0.003,0.004,0.005,0.006,0.007,0.008,0.009,0.01,0.02,0.03,0.04,0.05,0.06,0.07,0.08,0.09,0.1,0.2,0.3,0.4,0.5,0.6,0.7,0.8,0.9,1,2,3,4,5,6,7,8,9,10,20,30,40,50,60,70,80,90,100],"labelExpr":"datum.value == 0.000001 ? '10⁻⁶' : datum.value == 0.0001 ? '10⁻⁴' : datum.value == 0.01 ? '10⁻²' : datum.value == 1 ? '10⁰' : datum.value == 100 ? '10²' : ''","tickSize":{"condition":{"test":"abs(log(datum.value)/LN10 - round(log(datum.value)/LN10)) < 0.001","value":6},"value":3},"labelPadding":3,"labelOverlap":false,"labelFlush":false,"title":null}},
    "y":{"field":"y","type":"quantitative","scale":{"type":"log","domain":[3,100],"nice":false},"axis":{"values":[3,4,5,6,7,8,9,10,20,30,40,50,60,70,80,90,100],"labelExpr":"datum.value == 100 ? '10²' : datum.value == 10 ? '10¹' : ''","tickSize":{"condition":{"test":"datum.value == 10 || datum.value == 100","value":8},"value":5},"labelPadding":4,"labelOverlap":false,"title":null}}},
   "layer":[
    {"data":{"name":"fits"},"transform":[{"filter":"datum.p=='4'"}],"mark":{"type":"line","stroke":"black","strokeWidth":1.5},"encoding":{"strokeDash":{"field":"s","type":"nominal","scale":{"domain":["f","o"],"range":[[1,0],[17,23]]},"legend":null}}},
    {"data":{"name":"pts"},"transform":[{"filter":"datum.p=='4'"}],"mark":{"type":"point","shape":"circle","filled":true,"stroke":"black","strokeWidth":1.3,"size":50,"opacity":1},"encoding":{"fill":{"field":"s","type":"nominal","scale":{"domain":["f","o"],"range":["black","white"]},"legend":null}}},
    {"data":{"name":"fits"},"transform":[{"filter":"datum.p=='4' && datum.y==100"}],"mark":{"type":"point","shape":"M-1,0L1,0M0,-1L0,1","filled":false,"stroke":"black","strokeWidth":1.6,"size":150,"opacity":1}}
   ]},
  {"data":{"name":"labels"},"transform":[{"filter":"datum.p=='4'"}],"mark":{"type":"text","align":"left","baseline":"alphabetic","fontSize":25,"color":"black"},"encoding":{"x":{"datum":1.4e-6,"type":"quantitative","scale":{"type":"log","domain":[5.4e-7,100],"nice":false}},"y":{"datum":7.38,"type":"quantitative","scale":{"type":"log","domain":[3,100],"nice":false}},"text":{"field":"name"}}},
  {"data":{"name":"labels"},"transform":[{"filter":"datum.p=='4'"}],"mark":{"type":"text","align":"left","baseline":"alphabetic","fontSize":24,"fontStyle":"italic","text":"R","color":"black"},"encoding":{"x":{"datum":1.4e-6,"type":"quantitative","scale":{"type":"log","domain":[5.4e-7,100],"nice":false}},"y":{"datum":4.37,"type":"quantitative","scale":{"type":"log","domain":[3,100],"nice":false}}}},
  {"data":{"name":"labels"},"transform":[{"filter":"datum.p=='4'"}],"mark":{"type":"text","align":"left","baseline":"alphabetic","fontSize":16,"dx":17.3,"dy":-9,"text":"2","color":"black"},"encoding":{"x":{"datum":1.4e-6,"type":"quantitative","scale":{"type":"log","domain":[5.4e-7,100],"nice":false}},"y":{"datum":4.37,"type":"quantitative","scale":{"type":"log","domain":[3,100],"nice":false}}}},
  {"data":{"name":"labels"},"transform":[{"filter":"datum.p=='4'"}],"mark":{"type":"text","align":"left","baseline":"alphabetic","fontSize":24,"dx":26.2,"color":"black"},"encoding":{"x":{"datum":1.4e-6,"type":"quantitative","scale":{"type":"log","domain":[5.4e-7,100],"nice":false}},"y":{"datum":4.37,"type":"quantitative","scale":{"type":"log","domain":[3,100],"nice":false}},"text":{"field":"r"}}}
 ]}
],
"config": {
 "view": {"stroke": null},
 "font": "Liberation Sans",
 "text": {"font": "Liberation Sans"},
 "axis": {"domainColor": "black", "domainWidth": 1.5, "tickColor": "black", "tickWidth": 1.3, "labelColor": "black", "grid": false, "labelFont": "Liberation Sans", "labelFontSize": 24, "titleColor": "black", "titleFont": "Liberation Sans", "titleFontWeight": "normal"}
}
}
